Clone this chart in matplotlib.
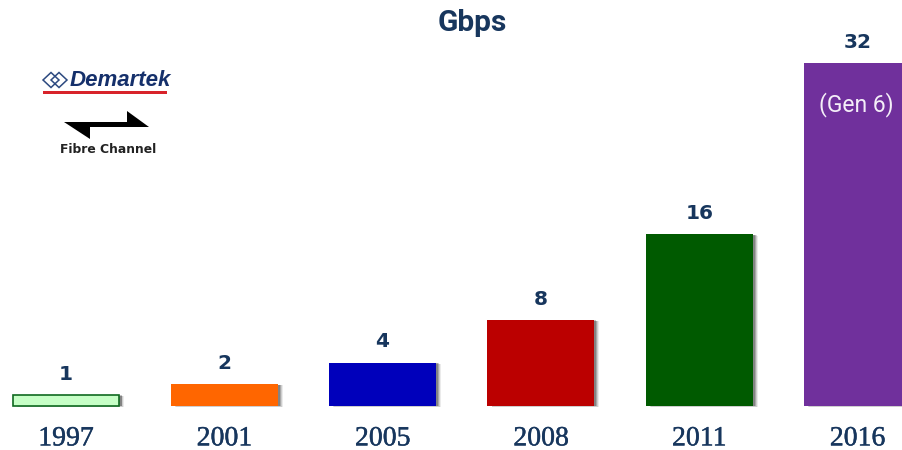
"""Fibre Channel speed by year, as a simple bar chart with the vendor logo."""
import matplotlib
matplotlib.use("Agg")
import matplotlib.pyplot as plt
import matplotlib.patheffects as pe
from matplotlib.patches import Polygon, Rectangle

years = ["1997", "2001", "2005", "2008", "2011", "2016"]
speeds = [1, 2, 4, 8, 16, 32]
bar_colors = ["#c6ffc6", "#ff6600", "#0000bb", "#bb0000", "#005a00", "#70309c"]
edge_colors = ["#0f6a20", "#ff6600", "#0000bb", "#bb0000", "#005a00", "#70309c"]
edge_widths = [1.2, 0, 0, 0, 0, 0]

NAVY = "#17365d"
W, H = 903, 450


def soft_shadow():
    # stacked offset copies fake the blurred drop shadow
    effects = []
    for off, a in [(3.6, 0.08), (2.9, 0.12), (2.2, 0.18), (1.5, 0.22)]:
        effects.append(pe.SimplePatchShadow(offset=(off, -off * 0.25), shadow_rgbFace="#000000", alpha=a))
    effects.append(pe.Normal())
    return effects


def px(x, y):
    # pixel position (from top left) to figure fraction
    return x / W, 1 - y / H


def draw_logo(fig):
    for cx in (51, 59):
        pts = [px(cx - 8, 80), px(cx, 72.5), px(cx + 8, 80), px(cx, 87.5)]
        fig.add_artist(Polygon(pts, closed=True, fill=False, ec="#2d4a80", lw=1.1, transform=fig.transFigure))
    x, y = px(70, 81)
    fig.text(x, y, "Demartek", family="Liberation Sans", weight="bold", style="italic",
             fontsize=16, color="#15306b", va="center", ha="left")
    x0, y0 = px(43, 93.5)
    x1, y1 = px(167, 91)
    fig.add_artist(Rectangle((x0, y0), x1 - x0, y1 - y0, color="#d8232a", lw=0, transform=fig.transFigure))
    arrows = [px(64, 122), px(127, 122), px(127, 111), px(149, 127), px(90, 127), px(90, 139)]
    fig.add_artist(Polygon(arrows, closed=True, fc="black", ec="none", transform=fig.transFigure))
    x, y = px(108, 150)
    fig.text(x, y, "Fibre Channel", family="DejaVu Sans", weight="bold", fontsize=8.9,
             color="#222222", ha="center", va="center")


fig = plt.figure(figsize=(W / 100, H / 100), dpi=100)
ax = fig.add_axes([0, 0, 1, 1])
ax.axis("off")

# one category step is 158.3 px, one Gbps is 10.7 px
ax.set_xlim(-66 / 158.3, (W - 66) / 158.3)
ax.set_ylim((405.5 - H) / 10.7, 405.5 / 10.7)

xs = list(range(len(years)))
bars = ax.bar(xs, speeds, width=0.675, color=bar_colors, edgecolor=edge_colors, linewidth=edge_widths)
for b in bars:
    b.set_path_effects(soft_shadow())

# thin stroke thickens the serif digits a little
year_weight = [pe.withStroke(linewidth=0.3, foreground=NAVY)]
for x, s, year in zip(xs, speeds, years):
    ax.text(x, s + 1.05, str(s), family="DejaVu Sans", weight="bold", fontsize=14.5,
            color=NAVY, ha="center", va="bottom", clip_on=False)
    ax.text(x, -3.12, year, family="Liberation Serif", fontsize=20, color=NAVY,
            ha="center", va="center", clip_on=False, path_effects=year_weight)

ax.text(5 - 0.01, 32 - 3.9, "(Gen 6)", family="Roboto", fontsize=16.5,
        color="#f4eef8", ha="center", va="center")

fig.text(*px(472, 23), "Gbps", family="Roboto", weight="bold", fontsize=21.5,
         color=NAVY, ha="center", va="center")

draw_logo(fig)

fig.savefig("out.png", dpi=100)
